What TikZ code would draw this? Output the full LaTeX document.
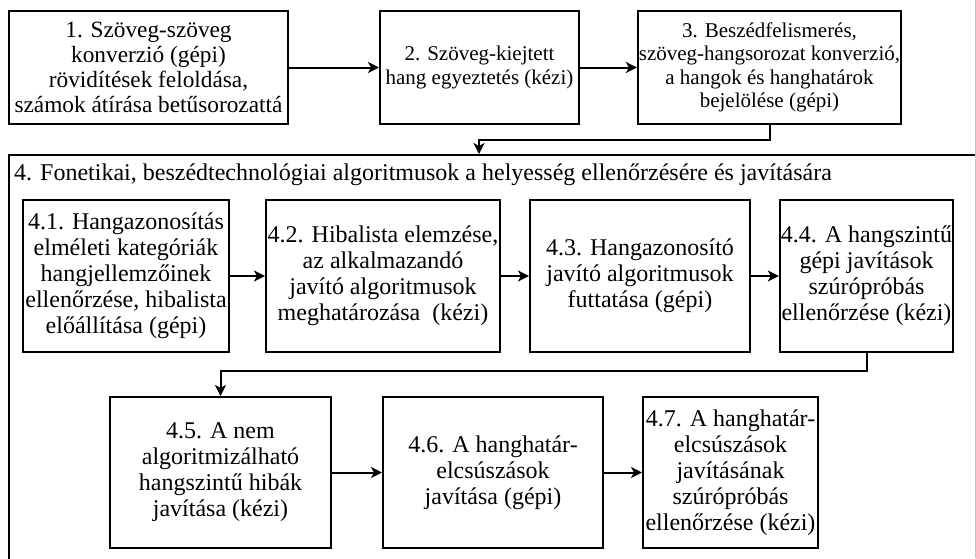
\documentclass[tikz,border=0pt]{standalone}
\usepackage{fontspec}
\setmainfont{Liberation Serif}
\usetikzlibrary{arrows.meta}
\begin{document}
\begin{tikzpicture}[x=1pt,y=-1pt,
  box/.style={draw, line width=2pt, align=center, inner sep=1pt,
    font=\fontsize{24}{26}\selectfont},
  topbox/.style={box, minimum height=113pt},
  smalltext/.style={font=\fontsize{21}{23.5}\selectfont},
  flow/.style={line width=2pt, -{Stealth[length=11pt,width=11pt,inset=3pt]}}]
\clip (0,0) rectangle (976,558);
\fill[white] (0,0) rectangle (976,558);

% top row
\node[topbox, minimum width=279pt, font=\fontsize{23.3}{25}\selectfont] (b1) at (148.5,67.5)
  {1. Szöveg-szöveg\\konverzió (gépi)\\rövidítések feloldása,\\számok átírása betűsorozattá};
\node[topbox, smalltext, minimum width=199pt] (b2) at (479.5,67.5)
  {2. Szöveg-kiejtett\\hang egyeztetés (kézi)};
\node[topbox, smalltext, minimum width=263pt] (b3) at (769.5,67.5)
  {3. Beszédfelismerés,\\szöveg-hangsorozat konverzió,\\a hangok és hanghatárok\\bejelölése (gépi)};

% enclosing step 4
\node[draw, line width=2pt, minimum width=991pt, minimum height=445pt] (b4) at (504.5,377.5) {};
\node[anchor=west, inner sep=0pt, font=\fontsize{24}{26}\selectfont] (t4) at (14,175)
  {4. Fonetikai, beszédtechnológiai algoritmusok a helyesség ellenőrzésére és javítására};

% sub-steps, first row
\node[box, minimum width=206pt, minimum height=152pt] (b41) at (126,276)
  {4.1. Hangazonosítás\\elméleti kategóriák\\hangjellemzőinek\\ellenőrzése, hibalista\\előállítása (gépi)};
\node[box, minimum width=234pt, minimum height=152pt] (b42) at (383,276)
  {4.2. Hibalista elemzése,\\az alkalmazandó\\javító algoritmusok\\meghatározása\ \ (kézi)};
\node[box, minimum width=220pt, minimum height=152pt] (b43) at (640,276)
  {4.3. Hangazonosító\\javító algoritmusok\\futtatása (gépi)};
\node[box, minimum width=173pt, minimum height=152pt] (b44) at (866.5,276)
  {4.4. A hangszintű\\gépi javítások\\szúrópróbás\\ellenőrzése (kézi)};

% sub-steps, second row
\node[box, minimum width=221pt, minimum height=151pt] (b45) at (220.5,472.5)
  {4.5. A nem\\algoritmizálható\\hangszintű hibák\\javítása (kézi)};
\node[box, minimum width=220pt, minimum height=151pt] (b46) at (493,472.5)
  {4.6. A hanghatár-\\elcsúszások\\javítása (gépi)};
\node[box, minimum width=175pt, minimum height=151pt] (b47) at (730.5,472.5)
  {4.7. A hanghatár-\\elcsúszások\\javításának\\szúrópróbás\\ellenőrzése (kézi)};

% connectors
\draw[flow] (b1) -- (b2);
\draw[flow] (b2) -- (b3);
\coordinate (j1) at (479,140);
\draw[flow] (b3.south) |- (j1) -- (j1 |- b4.north);
\draw[flow] (b41) -- (b42);
\draw[flow] (b42) -- (b43);
\draw[flow] (b43) -- (b44);
\draw[flow] (b44.south) -- ++(0,18) -| (b45.north);
\draw[flow] (b45) -- (b46);
\draw[flow] (b46) -- (b47);

% thin frame line on the right edge
\draw[gray!45, line width=1pt] (975.5,0) -- (975.5,558);
\end{tikzpicture}
\end{document}
